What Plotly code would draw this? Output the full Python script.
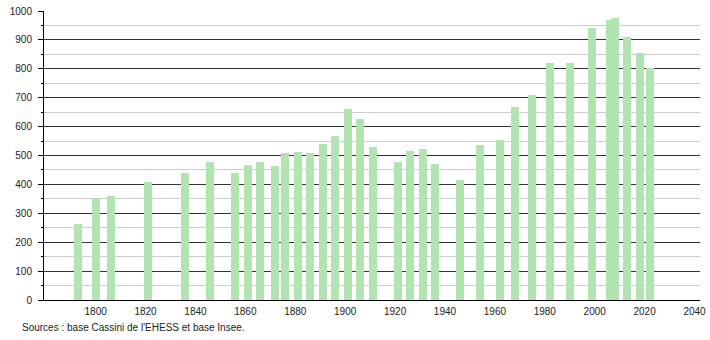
import plotly.graph_objects as go

years = [1793, 1800, 1806, 1821, 1836, 1846, 1856, 1861, 1866, 1872, 1876,
         1881, 1886, 1891, 1896, 1901, 1906, 1911, 1921, 1926, 1931, 1936,
         1946, 1954, 1962, 1968, 1975, 1982, 1990, 1999, 2006, 2008, 2013,
         2018, 2022]
population = [262, 352, 359, 408, 438, 479, 438, 466, 476, 462, 510,
              511, 507, 540, 566, 662, 628, 528, 476, 517, 521, 472,
              414, 538, 555, 669, 710, 821, 821, 941, 969, 976, 910,
              855, 803]
x_ticks = list(range(1800, 2041, 20))
source_text = "Sources : base Cassini de l'EHESS et base Insee."

fig = go.Figure()
fig.add_trace(go.Bar(
    x=years, y=population, width=3.2,
    marker=dict(color="#b2e4b2", line=dict(width=0)),
    hoverinfo="x+y",
))

fig.update_layout(
    width=710, height=340,
    margin=dict(l=44, r=10, t=11, b=40, pad=0, autoexpand=False),
    paper_bgcolor="white", plot_bgcolor="white",
    showlegend=False,
    font=dict(family="Liberation Sans, Arial, sans-serif", size=10, color="#222"),
    bargap=0,
)
fig.update_xaxes(
    range=[1779.3, 2042.2],
    tickvals=x_ticks,
    showgrid=False, zeroline=False, automargin=False,
    showline=True, linecolor="#000", linewidth=1,
    ticks="", ticklabelstandoff=2,
)
fig.update_yaxes(
    range=[0, 1000],
    dtick=100, tick0=0, automargin=False,
    showgrid=True, gridcolor="#333", gridwidth=1,
    zeroline=False,
    showline=True, linecolor="#000", linewidth=1,
    ticks="outside", ticklen=5, tickcolor="#000", tickwidth=1,
    ticklabelstandoff=4,
    minor=dict(dtick=50, tick0=0, showgrid=True, gridcolor="#cccccc", gridwidth=1,
               ticks="outside", ticklen=2, tickcolor="#000"),
)
fig.add_annotation(
    text=source_text, xref="paper", yref="paper",
    x=(20 - 44) / 656, y=-27 / 289, xanchor="left", yanchor="middle",
    showarrow=False, font=dict(size=10, color="#222"),
)
fig.write_html("out.html")
